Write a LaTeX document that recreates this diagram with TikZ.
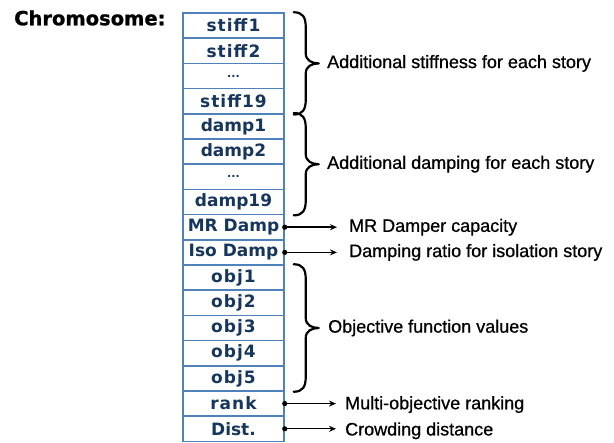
\documentclass[tikz,border=0pt]{standalone}
\usepackage{fontspec}
\setmainfont{Liberation Sans}
\newfontfamily\lblfont[RawFeature={embolden=0.8}]{Liberation Sans}
\newfontfamily\cellsp[LetterSpace=6]{DejaVu Sans Bold}
\newfontfamily\celln{DejaVu Sans Bold}
\newfontfamily\titlefont[RawFeature={embolden=1}]{DejaVu Sans Bold}
\usetikzlibrary{arrows.meta,calc}
\definecolor{cellblue}{RGB}{79,129,189}
\definecolor{celltext}{RGB}{23,54,93}
\newcommand\celldots{\fontsize{11}{11}\selectfont...}
\tikzset{
  cell/.style={draw=cellblue, line width=1.5pt, minimum width=101pt, minimum height=25.2pt,
    inner sep=0pt, text=celltext, font=\fontsize{17}{17}\selectfont},
  lbl/.style={anchor=west, inner sep=0pt, font=\lblfont\fontsize{18}{18}\selectfont, text=black},
  conn/.style={line width=1.4pt, -{Stealth[length=7pt,width=6pt]}},
  dotmark/.style={fill=black},
  bracestyle/.style={line width=2.2pt, line cap=round, line join=round},
}
\newcommand\curlybrace[2]{%
  \draw[bracestyle] let \p1=(#1), \p2=(#2), \n1={(\y1+\y2)/2} in
    (\x1+9pt,\y1) .. controls (\x1+18pt,\y1) and (\x1+21pt,\y1-5pt) .. (\x1+21pt,\y1-15pt)
    -- (\x1+21pt,\n1+10pt) .. controls (\x1+21pt,\n1+3pt) and (\x1+27pt,\n1) .. (\x1+34pt,\n1)
    .. controls (\x1+27pt,\n1) and (\x1+21pt,\n1-3pt) .. (\x1+21pt,\n1-10pt)
    -- (\x1+21pt,\y2+15pt) .. controls (\x1+21pt,\y2+5pt) and (\x1+18pt,\y2) .. (\x1+9pt,\y2);
}
\begin{document}
\begin{tikzpicture}[x=1pt,y=-1pt]
\useasboundingbox (0,0) rectangle (614,443);
\node[anchor=west, inner sep=0pt, font=\titlefont\fontsize{19.5}{19.5}\selectfont] (title) at (14,18) {Chromosome:};
\foreach \t/\f [count=\i] in {stiff1/\cellsp, stiff2/\cellsp, \celldots/\celln, stiff19/\cellsp,
  damp1/\celln, damp2/\celln, \celldots/\celln, damp19/\celln, MR Damp/\celln, Iso Damp/\celln,
  obj1/\cellsp, obj2/\cellsp, obj3/\cellsp, obj4/\cellsp, obj5/\cellsp, rank/\cellsp, Dist./\celln}
  \node[cell] (c\i) at (233.5, {13+25.2*(\i-0.5)}) {\f\t};
% braces
\curlybrace{c1.north east}{c4.south east}
\curlybrace{c5.north east}{c8.south east}
\curlybrace{c11.north east}{c15.south east}
% labels
\node[lbl] (lstiff) at (327,63.4) {Additional stiffness for each story};
\node[lbl] (ldamp) at (327,164.2) {Additional damping for each story};
\node[lbl] (lobj) at (328,328) {Objective function values};
\node[lbl] (lmr) at (349,227.2) {MR Damper capacity};
\node[lbl] (liso) at (349,252.4) {Damping ratio for isolation story};
\node[lbl] (lrank) at (345,404.6) {Multi-objective ranking};
\node[lbl] (ldist) at (345,430.8) {Crowding distance};
% arrows
\foreach \a/\b/\s in {c9/lmr/12pt, c10/liso/12pt, c16/lrank/9pt, c17/ldist/9pt}{
  \fill[dotmark] (\a.east) circle (2.6pt);
  \draw[conn, shorten >=\s] (\a.east) -- (\a.east -| \b.west);
}
\end{tikzpicture}
\end{document}
